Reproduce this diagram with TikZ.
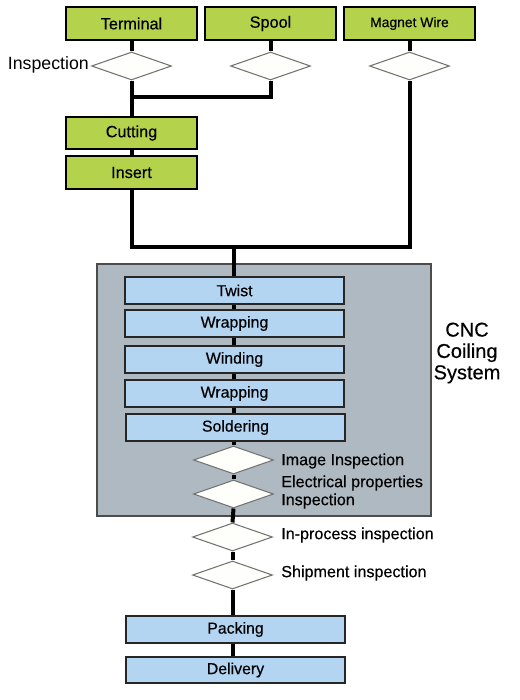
\documentclass[tikz,border=0pt]{standalone}
\usepackage{fontspec}
\setmainfont{Liberation Sans}
\newfontfamily\medfont{Liberation Sans}[FakeBold=0.4]
\usetikzlibrary{shapes.geometric}
\definecolor{boxgreen}{HTML}{B4D24B}
\definecolor{boxblue}{HTML}{B3D5F2}
\definecolor{cncgray}{HTML}{AFB9C2}
\definecolor{diafill}{HTML}{FEFEFA}
\tikzset{
  greenbox/.style={draw=black, line width=1.5pt, fill=boxgreen, minimum width=98.25pt, minimum height=24.5pt, inner sep=0pt, font=\medfont\fontsize{12.2pt}{14pt}\selectfont},
  bluebox/.style={draw=black!85, line width=1.4pt, fill=boxblue, minimum width=164pt, minimum height=20pt, inner sep=0pt, font=\medfont\fontsize{11.9pt}{14pt}\selectfont},
  insp/.style={diamond, draw=black!55, line width=0.8pt, fill=diafill, minimum width=60pt, minimum height=21pt, aspect=2.86, inner sep=0pt},
  lbl/.style={inner sep=0pt, font=\medfont\fontsize{12.1pt}{13.5pt}\selectfont},
  conn/.style={draw=black, line width=3pt},
}
\begin{document}
\begin{tikzpicture}[x=0.75pt, y=-0.75pt]
\useasboundingbox (0,0) rectangle (520,700);
% CNC box
\node[draw=black!70, line width=1pt, fill=cncgray, minimum width=250.5pt, minimum height=189pt, inner sep=0pt] (cnc) at (264,390) {};
% top row
\node[greenbox] (term) at (131.5,23.5) {Terminal};
\node[greenbox] (spool) at (270.5,23.5) {Spool};
\node[greenbox, font=\medfont\fontsize{10.4pt}{12pt}\selectfont] (mag) at (409.5,23.5) {Magnet Wire};
\node[insp] (dterm) at (131.5,66) {};
\node[insp] (dspool) at (270.5,66) {};
\node[insp] (dmag) at (409.5,66) {};
\node[lbl, anchor=east, font=\fontsize{13.3pt}{15pt}\selectfont] (linsp) at (89,65) {Inspection};
\node[greenbox] (cut) at (131.5,133) {Cutting};
\node[greenbox] (ins) at (131.5,172.5) {Insert};
\coordinate (j1) at (131.5,97);
\coordinate (j2) at (131.5,247);
\coordinate (j3) at (409.5,247);
\coordinate (jc) at (233.5,247);
% CNC chain
\node[bluebox] (twist) at (234.5,290.5) {Twist};
\node[bluebox] (wrap1) at (234.5,323.5) {Wrapping};
\node[bluebox] (wind) at (234.5,359.5) {Winding};
\node[bluebox] (wrap2) at (234.5,393.5) {Wrapping};
\node[bluebox] (sold) at (235.5,427.5) {Soldering};
\node[insp] (dimg) at (233.5,460) {};
\node[insp] (delec) at (233.5,494) {};
\node[lbl, anchor=west] (limg) at (281,461) {Image Inspection};
\node[lbl, anchor=west, align=left] (lelec) at (281,492) {Electrical properties\\Inspection};
\node[align=center, inner sep=0pt, font=\medfont\fontsize{15pt}{16pt}\selectfont] (lcnc) at (467,353) {CNC\\Coiling\\System};
% after CNC
\node[insp] (dproc) at (232.5,537) {};
\node[insp] (dship) at (232.5,575) {};
\node[lbl, anchor=west] (lproc) at (281,535) {In-process inspection};
\node[lbl, anchor=west] (lship) at (281,573) {Shipment inspection};
\node[bluebox] (pack) at (235.5,629.5) {Packing};
\node[bluebox] (deliv) at (235.5,670) {Delivery};
% connectors
\draw[conn] (term.south) -- (dterm.north);
\draw[conn] (spool.south) -- (dspool.north);
\draw[conn] (mag.south) -- (dmag.north);
\draw[conn] (dterm.south) -- (cut.north);
\draw[conn] (dspool.south) |- (j1);
\draw[conn] (cut.south) -- (ins.north);
\draw[conn] (ins.south) -- (j2) -- (j3) -- (dmag.south);
\draw[conn] (jc) -- (jc |- twist.north);
\draw[conn] (jc |- twist.south) -- (jc |- wrap1.north);
\draw[conn] (jc |- wrap1.south) -- (jc |- wind.north);
\draw[conn] (jc |- wind.south) -- (jc |- wrap2.north);
\draw[conn] (jc |- wrap2.south) -- (jc |- sold.north);
\draw[conn] (jc |- sold.south) -- (dimg.north);
\draw[conn] (dimg.south) -- (delec.north);
\draw[conn] (delec.south) -- (dproc.north);
\draw[conn] (dproc.south) -- (dship.north);
\draw[conn] (dship.south) -- (dship.south |- pack.north);
\draw[conn] (dship.south |- pack.south) -- (dship.south |- deliv.north);
\end{tikzpicture}
\end{document}
